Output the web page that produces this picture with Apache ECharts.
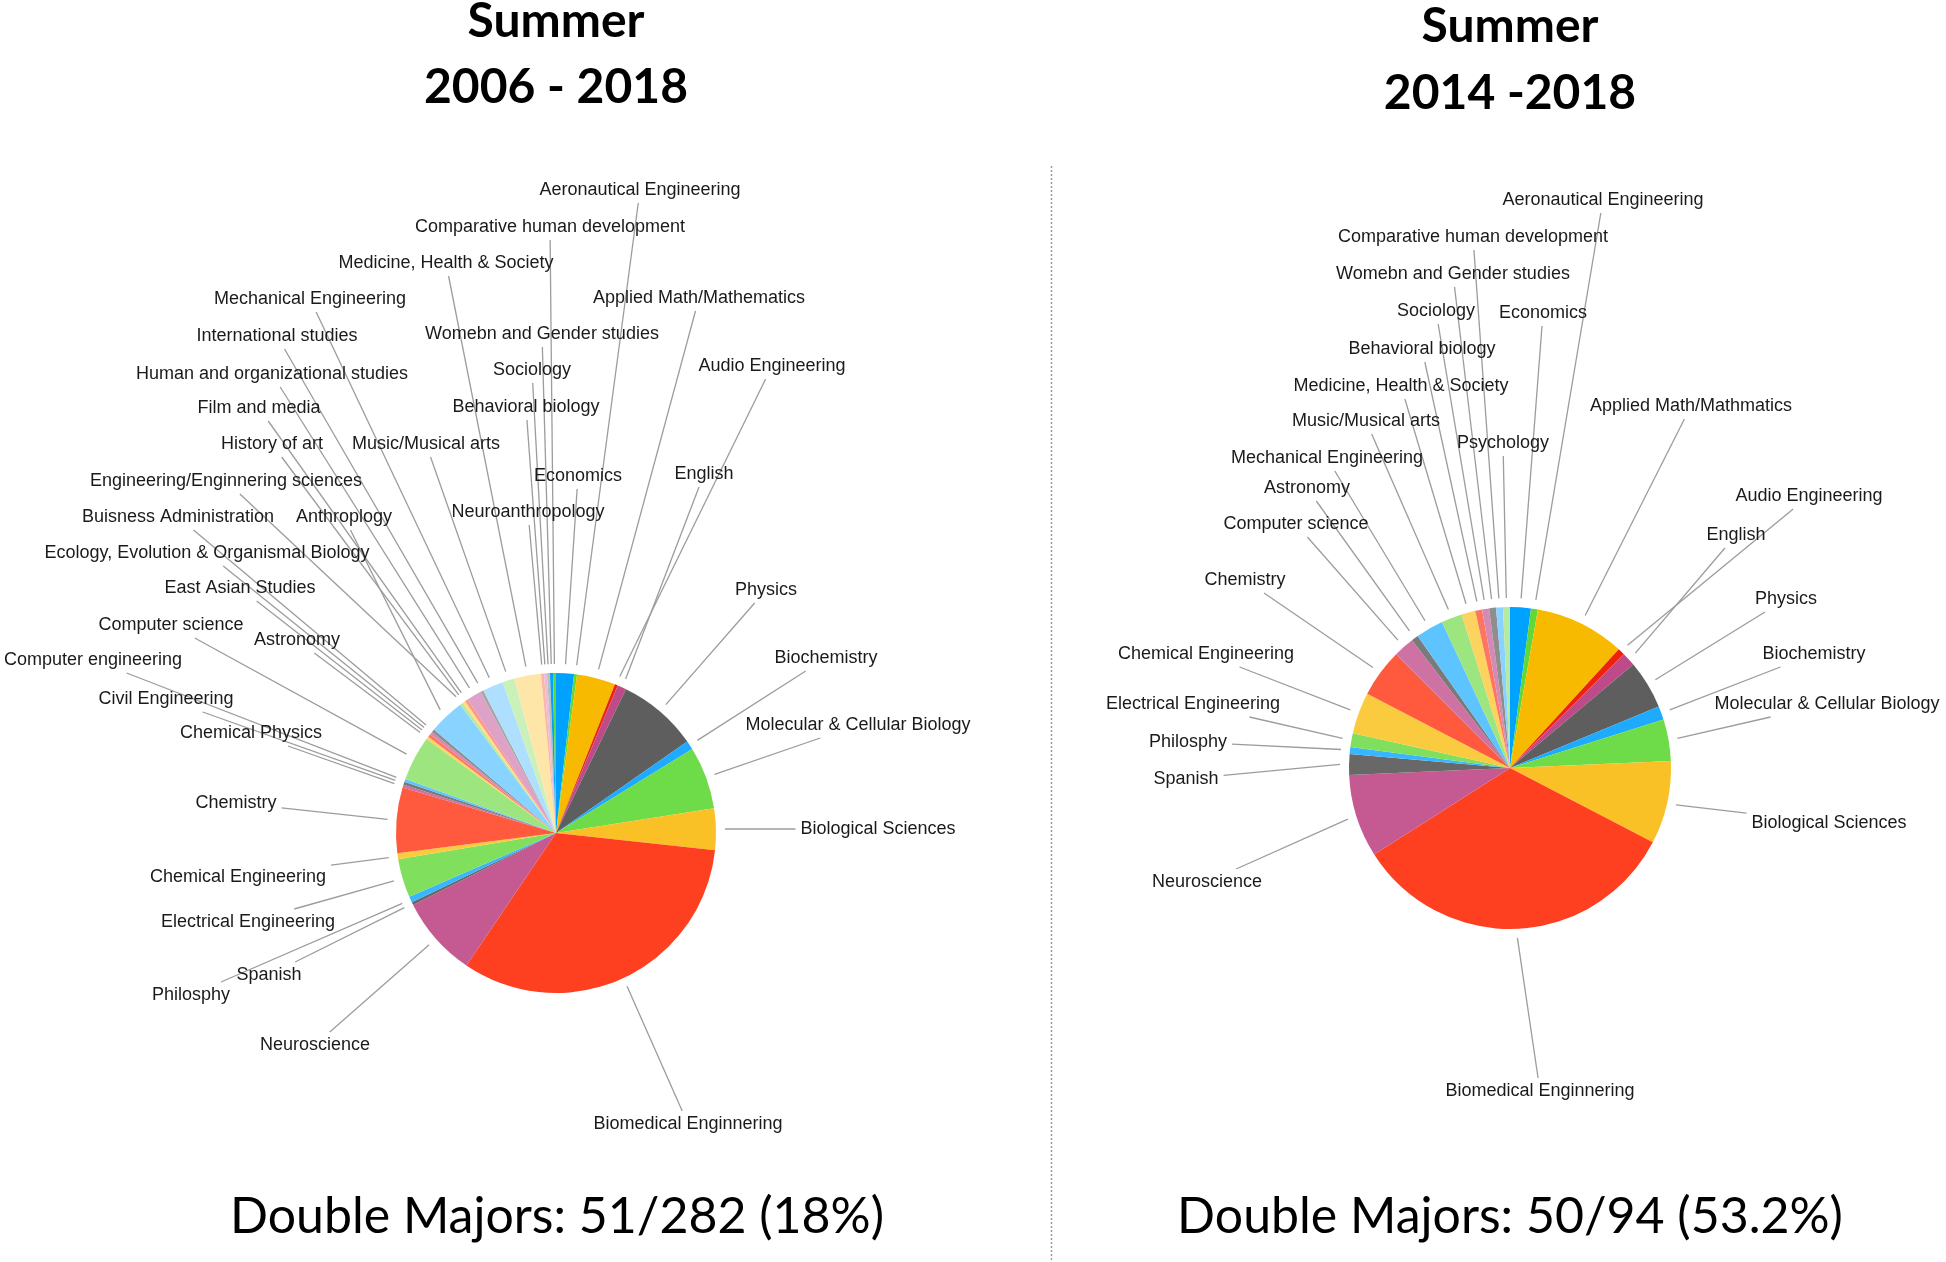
<!DOCTYPE html>
<html>
<head>
<meta charset="utf-8">
<script src="https://cdn.jsdelivr.net/npm/echarts@6/dist/echarts.min.js"></script>
<style>
html,body{margin:0;padding:0;background:#ffffff;}
#chart{width:1946px;height:1262px;}
</style>
</head>
<body>
<div id="chart"></div>
<script>
// ---------------- DATA ----------------
const leftMajors = [
  'Economics', 'Aeronautical Engineering', 'Applied Math/Mathematics', 'Audio Engineering', 'English',
  'Physics', 'Biochemistry', 'Molecular & Cellular Biology', 'Biological Sciences', 'Biomedical Enginnering',
  'Neuroscience', 'Spanish', 'Philosphy', 'Electrical Engineering', 'Chemical Engineering',
  'Chemistry', 'Chemical Physics', 'Civil Engineering', 'Computer engineering', 'Computer science',
  'Astronomy', 'East Asian Studies', 'Ecology, Evolution & Organismal Biology', 'Buisness Administration', 'Anthroplogy',
  'Engineering/Enginnering sciences', 'History of art', 'Film and media', 'Human and organizational studies', 'International studies',
  'Mechanical Engineering', 'Music/Musical arts', 'Medicine, Health & Society', 'Neuroanthropology', 'Behavioral biology',
  'Sociology', 'Womebn and Gender studies', 'Comparative human development'
];
const leftCounts = [
  6, 1, 13, 1, 3,
  27, 3, 21, 14, 109,
  27, 1, 2, 13, 2,
  22, 1, 1, 1, 15,
  1, 1, 1, 1, 12,
  1, 1, 1, 5, 1,
  7, 4, 9, 1, 1,
  1, 1, 1
];
const rightMajors = [
  'Economics', 'Aeronautical Engineering', 'Applied Math/Mathmatics', 'Audio Engineering', 'English',
  'Physics', 'Biochemistry', 'Molecular & Cellular Biology', 'Biological Sciences', 'Biomedical Enginnering',
  'Neuroscience', 'Spanish', 'Philosphy', 'Electrical Engineering', 'Chemical Engineering',
  'Chemistry', 'Computer science', 'Astronomy', 'Mechanical Engineering', 'Music/Musical arts',
  'Medicine, Health & Society', 'Behavioral biology', 'Sociology', 'Womebn and Gender studies', 'Comparative human development',
  'Psychology'
];
const rightCounts = [
  3, 1, 13, 1, 2,
  7, 2, 6, 12, 48,
  12, 3, 1, 2, 6,
  7, 3, 1, 4, 3,
  2, 1, 1, 1, 1,
  1
];
const leftTitle = ['Summer', '2006 - 2018'];
const rightTitle = ['Summer', '2014 -2018'];
const leftNote = 'Double Majors: 51/282 (18%)';
const rightNote = 'Double Majors: 50/94 (53.2%)';

// ---------------- LAYOUT (label text centres, px) ----------------
const leftLabelPos = [
  [578, 476], [640, 190], [699, 298], [772, 366], [704, 474],
  [766, 590], [826, 658], [858, 725], [878, 829], [688, 1124],
  [315, 1045], [269, 975], [191, 995], [248, 922], [238, 877],
  [236, 803], [251, 733], [166, 699], [93, 660], [171, 625],
  [297, 640], [240, 588], [207, 553], [178, 517], [344, 517],
  [226, 481], [272, 444], [259, 408], [272, 374], [277, 336],
  [310, 299], [426, 444], [446, 263], [528, 512], [526, 407],
  [532, 370], [542, 334], [550, 227]
];
const rightLabelPos = [
  [1543, 313], [1603, 200], [1691, 406], [1809, 496], [1736, 535],
  [1786, 599], [1814, 654], [1827, 704], [1829, 823], [1540, 1091],
  [1207, 882], [1186, 779], [1188, 742], [1193, 704], [1206, 654],
  [1245, 580], [1296, 524], [1307, 488], [1327, 458], [1366, 421],
  [1401, 386], [1422, 349], [1436, 311], [1453, 274], [1473, 237],
  [1503, 443]
];
const leftPie = { center: [556, 833], radius: 160 };
const rightPie = { center: [1510, 768], radius: 161 };

const palette = [
  '#00A2FF', '#61D836', '#F8BA00', '#EE220C', '#BF4A88', '#5E5E5E',
  '#1DAAFF', '#6EDB48', '#F9C125', '#FF4020', '#C55A92', '#686868',
  '#38B6FF', '#80DF5C', '#FBCB3F', '#FF5A3D', '#CD72A3', '#7A7A7A',
  '#5EC4FF', '#9CE57F', '#FCD35F', '#FF7660', '#D58AB5', '#8E8E8E',
  '#88D3FF', '#B5EAA0', '#FDDD85', '#FF9584', '#DEA2C6', '#A5A5A5',
  '#AEDFFF', '#CBF1BB', '#FEE6A9', '#FFB4A8', '#E8BDD7', '#BEBEBE'
];

// ---------------- BUILD ----------------
function buildData(names, counts) {
  return names.map((n, i) => ({
    name: n,
    value: counts[i],
    itemStyle: { color: palette[i % palette.length] }
  }));
}

function makeLayout(counts, pos, pie) {
  const total = counts.reduce((a, b) => a + b, 0);
  const mids = [];
  let acc = 0;
  counts.forEach(v => { mids.push((acc + v / 2) / total * 2 * Math.PI); acc += v; });
  const cx = pie.center[0], cy = pie.center[1], R = pie.radius + 9;
  return function (p) {
    const i = p.dataIndex;
    const a = mids[i];
    const sx = cx + R * Math.sin(a);
    const sy = cy - R * Math.cos(a);
    const lx = pos[i][0], ly = pos[i][1];
    const hw = p.labelRect.width / 2 + 5;
    const hh = p.labelRect.height / 2 + 4;
    const dx = sx - lx, dy = sy - ly;
    const ux = Math.abs(dx) > 1e-6 ? hw / Math.abs(dx) : Infinity;
    const uy = Math.abs(dy) > 1e-6 ? hh / Math.abs(dy) : Infinity;
    const u = Math.min(ux, uy, 1);
    const ex = lx + u * dx, ey = ly + u * dy;
    return {
      x: lx, y: ly, align: 'center', verticalAlign: 'middle',
      labelLinePoints: [[sx, sy], [ex, ey], [ex, ey]]
    };
  };
}

function pieSeries(names, counts, pos, pie) {
  return {
    type: 'pie',
    center: pie.center,
    radius: pie.radius,
    startAngle: 90,
    clockwise: true,
    avoidLabelOverlap: false,
    minShowLabelAngle: 0,
    silent: true,
    data: buildData(names, counts),
    itemStyle: { borderWidth: 0 },
    label: {
      show: true,
      position: 'outside',
      formatter: '{b}',
      fontFamily: 'Liberation Sans, Arial, sans-serif',
      fontSize: 18,
      color: '#1a1a1a',
      overflow: 'none'
    },
    labelLine: {
      show: true, length: 10, length2: 10, smooth: false,
      lineStyle: { color: '#9c9c9c', width: 1.3 }
    },
    labelLayout: makeLayout(counts, pos, pie),
    emphasis: { disabled: true }
  };
}

function txt(text, x, y, size, weight) {
  return {
    type: 'text', x: x, y: y, silent: true,
    style: {
      text: text, x: 0, y: 0, align: 'center', verticalAlign: 'middle',
      font: weight + ' ' + size + 'px Lato, "Open Sans", sans-serif',
      fill: '#000000'
    }
  };
}

const chart = echarts.init(document.getElementById('chart'), null, { renderer: 'canvas' });
chart.setOption({
  animation: false,
  backgroundColor: '#ffffff',
  series: [
    pieSeries(leftMajors, leftCounts, leftLabelPos, leftPie),
    pieSeries(rightMajors, rightCounts, rightLabelPos, rightPie)
  ],
  graphic: [
    txt(leftTitle[0], 556, 22, 48, 'bold'),
    txt(leftTitle[1], 556, 88, 48, 'bold'),
    txt(rightTitle[0], 1510, 27, 48, 'bold'),
    txt(rightTitle[1], 1510, 94, 48, 'bold'),
    txt(leftNote, 557, 1217, 50, 'normal'),
    txt(rightNote, 1510, 1217, 50, 'normal'),
    {
      type: 'line', silent: true,
      shape: { x1: 1051.5, y1: 166, x2: 1051.5, y2: 1262 },
      style: { stroke: '#9a9a9a', lineWidth: 1.5, lineDash: [2, 2] }
    }
  ]
});
</script>
</body>
</html>
